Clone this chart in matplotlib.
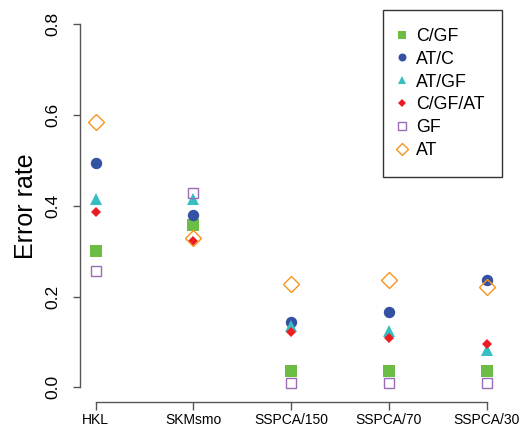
import matplotlib
matplotlib.use("Agg")
import matplotlib.pyplot as plt

plt.rcParams['font.family'] = ['Liberation Sans', 'DejaVu Sans']

# data
methods = ['HKL', 'SKMsmo', 'SSPCA/150', 'SSPCA/70', 'SSPCA/30']
c_gf = [0.301, 0.358, 0.037, 0.037, 0.037]
at_c = [0.494, 0.380, 0.143, 0.165, 0.236]
at_gf = [0.416, 0.415, 0.134, 0.124, 0.082]
c_gf_at = [0.386, 0.323, 0.121, 0.108, 0.095]
gf = [0.257, 0.429, 0.009, 0.009, 0.009]
at = [0.585, 0.328, 0.228, 0.236, 0.222]

series = [
    ('C/GF', c_gf, dict(marker='s', ms=8.4, mfc='#6bbd45', mec='#6bbd45', mew=0)),
    ('AT/C', at_c, dict(marker='o', ms=8.2, mfc='#3451a3', mec='#3451a3', mew=0)),
    ('AT/GF', at_gf, dict(marker='^', ms=9.0, mfc='#36bfc3', mec='#36bfc3', mew=0)),
    ('C/GF/AT', c_gf_at, dict(marker='D', ms=5.6, mfc='#ec1c24', mec='#ec1c24', mew=0)),
    ('GF', gf, dict(marker='s', ms=7.4, mfc='none', mec='#9b6bb5', mew=1.0)),
    ('AT', at, dict(marker='D', ms=8.4, mfc='none', mec='#f7941d', mew=1.0)),
]

W, H = 522, 429
fig = plt.figure(figsize=(W / 100, H / 100), dpi=100)

# axes box in pixels (R-style detached axes)
left, right, top, bottom = 80, 502, 10, 402
ax = fig.add_axes([left / W, 1 - bottom / H, (right - left) / W, (bottom - top) / H])

x = list(range(1, len(methods) + 1))
for name, vals, style in series:
    ax.plot(x, vals, linestyle='none', label=name, **style)

# map data to the pixel positions measured in the reference
px_per_x = 97.75
px_per_y = 453.75
ax.set_xlim(1 - (95.7 - left) / px_per_x, 5 + (right - 486.7) / px_per_x)
ax.set_ylim(-(bottom - 387.3) / px_per_y, 0.8 + (24.3 - top) / px_per_y)

ax.set_xticks(x)
ax.set_xticklabels(methods, fontsize=10)
ax.set_yticks([0.0, 0.2, 0.4, 0.6, 0.8])
ax.set_yticklabels(['0.0', '0.2', '0.4', '0.6', '0.8'], fontsize=12.5,
                   rotation=90, va='center')

for s in ['top', 'right']:
    ax.spines[s].set_visible(False)
ax.spines['left'].set_bounds(0, 0.8)
ax.spines['bottom'].set_bounds(1, 5)
for s in ['left', 'bottom']:
    ax.spines[s].set_color('#555555')
    ax.spines[s].set_linewidth(1.0)
ax.tick_params(axis='both', direction='out', length=5.4, width=1.0,
               color='#555555')
ax.tick_params(axis='y', pad=8.5)
ax.tick_params(axis='x', pad=2.5)

ax.set_ylabel('Error rate', fontsize=18)
ax.yaxis.set_label_coords(-(left - 38) / (right - left), (bottom - 206) / (bottom - top))

leg = ax.legend(loc='upper right', bbox_to_anchor=(1.0, 1.0), fontsize=12.8,
                frameon=True, fancybox=False, edgecolor='black',
                borderaxespad=0, borderpad=1.0, labelspacing=0.33,
                handlelength=0.1, handletextpad=0.75, markerscale=0.7,
                numpoints=1)
leg.get_frame().set_linewidth(1.0)

fig.savefig('out.png', dpi=100)
